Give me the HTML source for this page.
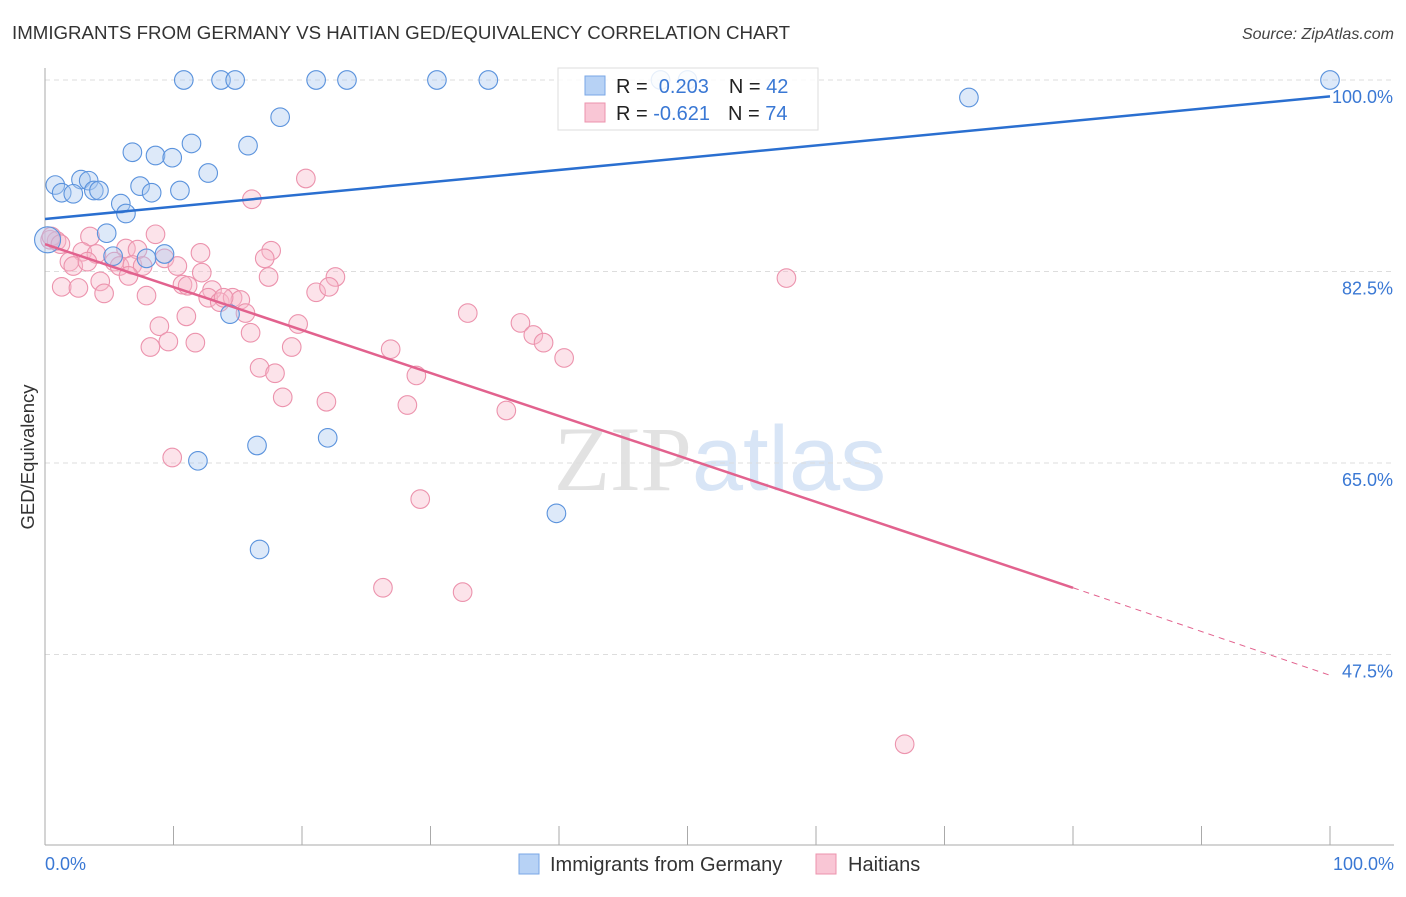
<!DOCTYPE html>
<html><head><meta charset="utf-8"><style>
body{margin:0;background:#fff;width:1406px;height:892px;overflow:hidden;font-family:"Liberation Sans",sans-serif}
svg text{font-family:"Liberation Sans",sans-serif}
</style></head><body>
<svg id="chart" width="1406" height="892" xmlns="http://www.w3.org/2000/svg">
<text x="12" y="39" font-size="18.7" fill="#333">IMMIGRANTS FROM GERMANY VS HAITIAN GED/EQUIVALENCY CORRELATION CHART</text>
<text x="1394" y="39" font-size="16" fill="#444" text-anchor="end" font-style="italic">Source: ZipAtlas.com</text>
<text x="720" y="490" font-size="92" text-anchor="middle" fill="#ddd" font-family="Liberation Serif"><tspan fill="#e2e2e2" font-family="Liberation Serif">ZIP</tspan><tspan fill="#d8e5f6" font-family="Liberation Sans">atlas</tspan></text>
<g id="grid"></g>
<g id="axes"></g>
<g id="points"></g>
<g id="lines"></g>
<text transform="translate(34,457) rotate(-90)" font-size="18.5" fill="#333" text-anchor="middle">GED/Equivalency</text>
<g>
<rect x="558" y="68" width="260" height="62" fill="#fff" fill-opacity="0.85" stroke="#ddd"/>
<rect x="585" y="76" width="20" height="19" fill="#b7d2f5" stroke="#7aa7e6"/>
<rect x="585" y="103" width="20" height="19" fill="#f9c6d5" stroke="#ec93ad"/>
<text x="616" y="93" font-size="20" fill="#222">R = <tspan fill="#3a78d4">&#160;0.203</tspan><tspan dx="20">N = </tspan><tspan fill="#3a78d4">42</tspan></text>
<text x="616" y="120" font-size="20" fill="#222">R = <tspan fill="#3a78d4">-0.621</tspan><tspan dx="18">N = </tspan><tspan fill="#3a78d4">74</tspan></text>
</g>
<g>
<rect x="519" y="854" width="20" height="20" fill="#b7d2f5" stroke="#7aa7e6"/>
<text x="550" y="871" font-size="20" fill="#333">Immigrants from Germany</text>
<rect x="816" y="854" width="20" height="20" fill="#f9c6d5" stroke="#ec93ad"/>
<text x="848" y="871" font-size="20" fill="#333">Haitians</text>
</g>
</svg>
<script>
const yTicks=[100,82.5,65,47.5];
const yTickLabels=["100.0%","82.5%","65.0%","47.5%"];
const xLabels=["0.0%","100.0%"];
const germanyX=[10.8,13.7,14.8,21.1,23.5,30.5,34.5,100,47.9,50,71.9,18.3,11.4,15.8,6.8,8.6,9.9,12.7,0.8,2.8,3.4,7.4,1.3,2.2,3.8,4.2,8.3,10.5,5.9,6.3,4.8,0.2,5.3,7.9,9.3,14.4,11.9,16.5,22.0,39.8,16.7];
const germanyY=[100,100,100,100,100,100,100,100,100,100,98.4,96.6,94.2,94.0,93.4,93.1,92.9,91.5,90.4,90.9,90.8,90.3,89.7,89.6,89.9,89.9,89.7,89.9,88.7,87.8,86.0,85.4,83.9,83.7,84.1,78.6,65.2,66.6,67.3,60.4,57.1];
const haitiX=[20.3,16.1,8.6,3.5,17.6,12.1,6.3,7.2,2.9,4.0,9.3,17.1,1.9,2.2,3.3,5.4,5.8,6.8,7.6,10.3,12.2,6.5,17.4,22.6,1.3,2.6,4.3,10.7,11.1,13.0,21.1,22.1,4.6,7.9,12.7,13.6,14.6,15.2,13.9,11.0,15.6,32.9,19.7,8.9,16.0,37.0,38.0,38.8,9.6,11.7,8.2,19.2,26.9,40.4,16.7,17.9,28.9,18.5,21.9,28.2,35.9,9.9,29.2,26.3,32.5,66.9,57.7,0.4,0.9,0.5,1.2];
const haitiY=[91.0,89.1,85.9,85.7,84.4,84.2,84.6,84.5,84.3,84.1,83.7,83.7,83.4,83.0,83.4,83.4,83.0,83.1,83.0,83.0,82.4,82.1,82.0,82.0,81.1,81.0,81.6,81.3,81.2,80.8,80.6,81.1,80.5,80.3,80.1,79.7,80.1,79.9,80.1,78.4,78.7,78.7,77.7,77.5,76.9,77.8,76.7,76.0,76.1,76.0,75.6,75.6,75.4,74.6,73.7,73.2,73.0,71.0,70.6,70.3,69.8,65.5,61.7,53.6,53.2,39.3,81.9,85.4,85.3,85.7,85.0];
const blueLine=[[0,87.3],[100,98.5]];
const pinkLine=[[0,85.0],[80,53.6]];
const pinkDash=[[80,53.6],[100,45.6]];
const NS="http://www.w3.org/2000/svg";
const X=v=>45+v*12.85, Y=v=>80+(100-v)*10.943;
function mk(tag,attrs,parent){const e=document.createElementNS(NS,tag);for(const k in attrs)e.setAttribute(k,attrs[k]);parent.appendChild(e);return e;}
const grid=document.getElementById('grid'),axes=document.getElementById('axes'),pts=document.getElementById('points'),lines=document.getElementById('lines');
yTicks.forEach((t,i)=>{const g=mk('line',{x1:45,x2:1394,y1:Y(t),y2:Y(t),stroke:'#ddd','stroke-dasharray':'5,4'},grid);


const tx=mk('text',{x:1393,y:Y(t)+23,'font-size':18,fill:'#3a78d4','text-anchor':'end'},axes);tx.textContent=yTickLabels[i];

});
mk('line',{x1:45,x2:45,y1:68,y2:845,stroke:'#aaa'},axes);
mk('line',{x1:45,x2:1394,y1:845,y2:845,stroke:'#aaa'},axes);
for(let i=0;i<=10;i++){const t=mk('line',{x1:X(i*10),x2:X(i*10),y1:826,y2:845,stroke:'#aaa'},axes);

}
[[0,'start',45],[1,'end',1394]].forEach(([i,a,x])=>{const t=mk('text',{x:x,y:870,'font-size':18,fill:'#3a78d4','text-anchor':a},axes);t.textContent=xLabels[i];

});
haitiX.forEach((x,i)=>{const c=mk('circle',{cx:X(x),cy:Y(haitiY[i]),r:9.3,fill:'#f7b9cb','fill-opacity':0.4,stroke:'#ec93ad','stroke-width':1.1},pts);

});
germanyX.forEach((x,i)=>{const c=mk('circle',{cx:X(x),cy:Y(germanyY[i]),r:i==31?13:9.3,fill:'#a9c9f1','fill-opacity':0.4,stroke:'#5b93dd','stroke-width':1.1},pts);

});
const bl=mk('line',{x1:X(blueLine[0][0]),y1:Y(blueLine[0][1]),x2:X(blueLine[1][0]),y2:Y(blueLine[1][1]),stroke:'#2a6fd0','stroke-width':2.5},lines);


const pl=mk('line',{x1:X(pinkLine[0][0]),y1:Y(pinkLine[0][1]),x2:X(pinkLine[1][0]),y2:Y(pinkLine[1][1]),stroke:'#e2628e','stroke-width':2.5},lines);


const pd=mk('line',{x1:X(pinkDash[0][0]),y1:Y(pinkDash[0][1]),x2:X(pinkDash[1][0]),y2:Y(pinkDash[1][1]),stroke:'#e2628e','stroke-width':1,'stroke-dasharray':'6,5'},lines);


</script>
</body></html>
